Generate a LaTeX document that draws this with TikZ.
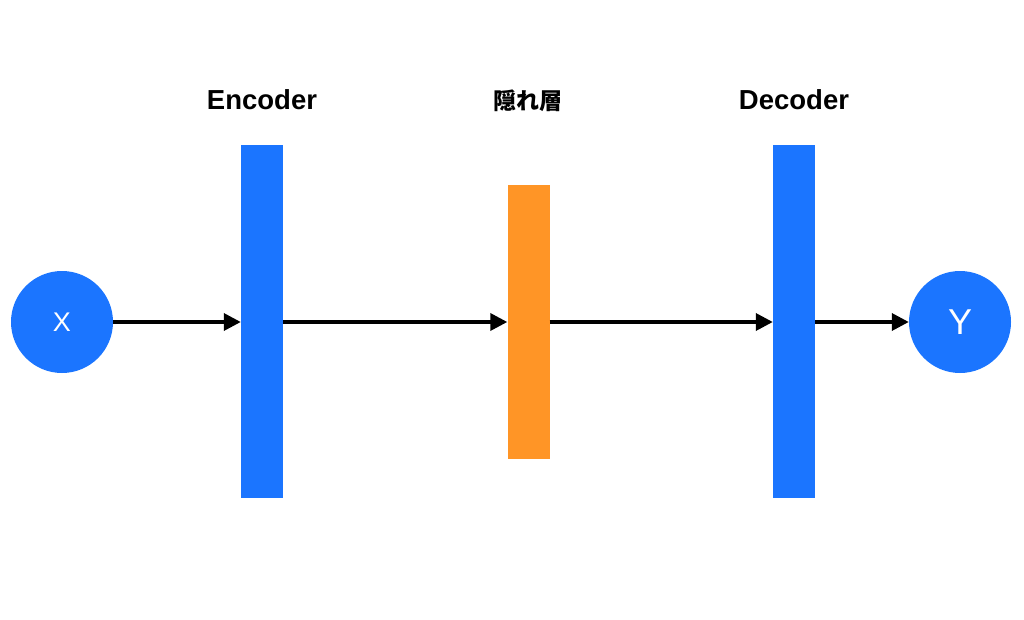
\documentclass[tikz,border=0pt]{standalone}
\usepackage{fontspec}
\setmainfont{Liberation Sans}
\newfontfamily\cjk{Noto Sans CJK JP}
\usetikzlibrary{arrows.meta}
\definecolor{cblue}{RGB}{27,117,255}
\definecolor{corange}{RGB}{255,149,38}
\tikzset{
  px/.style={x=1pt,y=-1pt},
  io/.style={circle,fill=cblue,minimum size=102pt,inner sep=0pt,text=white,font=\fontsize{27}{27}\selectfont},
  layer/.style={fill=#1,inner sep=0pt,minimum width=42pt},
  lbl/.style={font=\bfseries\fontsize{27.5}{28}\selectfont},
  conn/.style={line width=3.5pt,-{Triangle[length=17pt,width=17pt]}}
}
\begin{document}
\begin{tikzpicture}[px]
\useasboundingbox (0,0) rectangle (1024,620);
\node[io] (x) at (62,322) {X};
\node[io,font=\fontsize{36}{36}\selectfont] (y) at (960,322) {Y};
\node[layer=cblue,minimum height=353pt] (enc) at (262,321.5) {};
\node[layer=corange,minimum height=274pt] (hid) at (528.5,322) {};
\node[layer=cblue,minimum height=353pt] (dec) at (794,321.5) {};
\node[lbl] (tenc) at (262,100) {Encoder};
\node[lbl,font=\cjk\bfseries\fontsize{23}{26}\selectfont] (thid) at (528,101) {隠れ層};
\node[lbl] (tdec) at (794,100) {Decoder};
\draw[conn] (x.east) -- (enc.west |- x.east);
\draw[conn] (enc.east |- x.east) -- (hid.west |- x.east);
\draw[conn] (hid.east |- x.east) -- (dec.west |- x.east);
\draw[conn] (dec.east |- y.west) -- (y.west);
\end{tikzpicture}
\end{document}
